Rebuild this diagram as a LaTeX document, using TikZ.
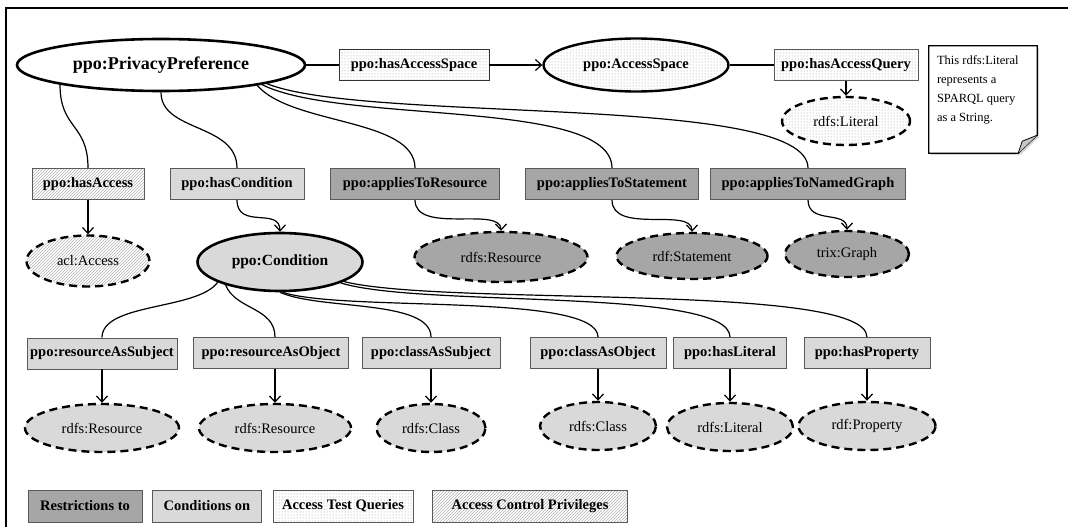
\documentclass[tikz,border=0pt]{standalone}
\usepackage{fontspec}
\setmainfont{Liberation Serif}
\usetikzlibrary{shapes.geometric,patterns,arrows.meta,shadows}

\definecolor{darkfill}{HTML}{A6A6A6}
\definecolor{lightfill}{HTML}{D9D9D9}

\tikzset{
    prop/.style={rectangle, draw=gray!70!black, line width=0.8pt, minimum height=31pt, inner sep=2pt,
        font=\fontsize{14.5}{16}\selectfont\bfseries},
    cls/.style={ellipse, draw, line width=2.4pt, inner sep=1pt, font=\fontsize{14.5}{16}\selectfont},
    ext/.style={cls, dash pattern=on 8pt off 5pt},
    restr/.style={fill=darkfill},
    cond/.style={fill=lightfill},
    query/.style={pattern=dots, pattern color=gray!80},
    priv/.style={pattern=north east lines, pattern color=gray!60},
    link/.style={line width=1.2pt},
}

\begin{document}
\begin{tikzpicture}[x=1pt,y=-1pt,>={Straight Barb[length=6pt,width=11pt]}]

    \useasboundingbox (0,0) rectangle (1068,527);
    % frame
    \draw[line width=1.2pt] (6,527) -- (6,8) -- (1068,8);

    % top row
    \node[cls, fill=white, line width=2.6pt, minimum width=288pt, minimum height=52pt,
        font=\fontsize{18}{20}\selectfont\bfseries] (pp) at (161,65) {ppo:PrivacyPreference};
    \node[prop, query, draw=black!80, minimum width=150pt] (hasSpace) at (414,65) {ppo:hasAccessSpace};
    \node[cls, query, minimum width=185pt, minimum height=53pt, font=\fontsize{14.5}{16}\selectfont\bfseries] (space) at (636,65) {ppo:AccessSpace};
    \node[prop, query, minimum width=144pt] (hasQuery) at (846,65) {ppo:hasAccessQuery};
    \node[ext, query, minimum width=128pt, minimum height=48pt] (litTop) at (846,121) {rdfs:Literal};

    % note
    \node[minimum width=108pt, minimum height=107pt] (note) at (983,99.5) {};
    \draw[line width=1.2pt, fill=white, drop shadow={shadow xshift=2pt,shadow yshift=-2pt,fill=gray!60}]
        (note.north west) -- (note.north east) -- ([yshift=18pt]note.south east)
        -- ([xshift=-19pt]note.south east) -- (note.south west) -- cycle;
    \draw[line width=0.8pt, fill=gray!45] ([yshift=18pt]note.south east) -- ([xshift=-15pt,yshift=12pt]note.south east)
        -- ([xshift=-19pt]note.south east);
    \node[anchor=north west, align=left, inner sep=0pt,
        font=\fontsize{12.5}{19}\selectfont] (noteText) at ([xshift=8pt,yshift=-10pt]note.north west)
        {This rdfs:Literal\\ represents a\\ SPARQL query\\ as a String.};

    % second row
    \node[prop, priv, minimum width=112pt] (hasAccess) at (88,184) {ppo:hasAccess};
    \node[prop, cond, minimum width=134pt] (hasCond) at (237,184) {ppo:hasCondition};
    \node[prop, restr, minimum width=169pt] (toRes) at (415,184) {ppo:appliesToResource};
    \node[prop, restr, minimum width=173pt] (toStmt) at (612,184) {ppo:appliesToStatement};
    \node[prop, restr, minimum width=195pt] (toGraph) at (808,184) {ppo:appliesToNamedGraph};

    % third row
    \node[ext, priv, minimum width=123pt, minimum height=51pt] (acl) at (88,261) {acl:Access};
    \node[cls, cond, line width=2.6pt, minimum width=165pt, minimum height=58pt,
        font=\fontsize{15.5}{17}\selectfont\bfseries] (condition) at (280,262) {ppo:Condition};
    \node[ext, restr, minimum width=173pt, minimum height=50pt] (resource) at (501,257) {rdfs:Resource};
    \node[ext, restr, minimum width=151pt, minimum height=46pt] (statement) at (692,256) {rdf:Statement};
    \node[ext, restr, minimum width=124pt, minimum height=46pt] (graph) at (847,254) {trix:Graph};

    % fourth row
    \node[prop, cond, minimum width=150pt] (asSubj) at (102,353.5) {ppo:resourceAsSubject};
    \node[prop, cond, minimum width=155pt] (asObj) at (271,353) {ppo:resourceAsObject};
    \node[prop, cond, minimum width=138pt] (clSubj) at (431,353) {ppo:classAsSubject};
    \node[prop, cond, minimum width=136pt] (clObj) at (598,353) {ppo:classAsObject};
    \node[prop, cond, minimum width=113pt] (hasLit) at (730,353) {ppo:hasLiteral};
    \node[prop, cond, minimum width=126pt] (hasProp) at (867,353) {ppo:hasProperty};

    % fifth row
    \node[ext, cond, minimum width=154pt, minimum height=48pt] (resA) at (102,428) {rdfs:Resource};
    \node[ext, cond, minimum width=152pt, minimum height=48pt] (resB) at (275,428) {rdfs:Resource};
    \node[ext, cond, minimum width=109pt, minimum height=48pt] (classA) at (431,428) {rdfs:Class};
    \node[ext, cond, minimum width=116pt, minimum height=48pt] (classB) at (598,426) {rdfs:Class};
    \node[ext, cond, minimum width=126pt, minimum height=48pt] (literal) at (730,427) {rdfs:Literal};
    \node[ext, cond, minimum width=137pt, minimum height=48pt] (property) at (867,426) {rdf:Property};

    % legend
    \node[prop, restr, minimum width=114pt, minimum height=32pt] (legRestr) at (85,506) {Restrictions to};
    \node[prop, cond, minimum width=109pt, minimum height=32pt] (legCond) at (207,506) {Conditions on};
    \node[prop, query, minimum width=140pt, minimum height=32pt] (legQuery) at (343,506) {Access Test Queries};
    \node[prop, priv, minimum width=195pt, minimum height=32pt] (legPriv) at (530,506) {Access Control Privileges};

    % top connectors
    \draw[link] (pp.east) -- (hasSpace.west);
    \draw[link,->] (hasSpace.east) -- (space.west);
    \draw[link] (space.east) -- (hasQuery.west);
    \draw[link,->] (hasQuery.south) -- (litTop.north);

    % from ppo:PrivacyPreference
    \draw[link] (pp.191) .. controls +(0,45) and +(0,-45) .. (hasAccess.north);
    \draw[link] (pp.south) .. controls +(0,40) and +(0,-45) .. (hasCond.north);
    \draw[link] (pp.-12) .. controls +(35,40) and +(0,-50) .. (toRes.north);
    \draw[link] (pp.-11) .. controls +(80,40) and +(0,-70) .. (toStmt.north);
    \draw[link] (pp.-10) .. controls +(100,40) and +(0,-75) .. (toGraph.north);

    \draw[link,->] (hasAccess.south) -- (acl.north);
    \draw[link,->] (hasCond.south) .. controls +(0,30) and +(0,-25) .. (condition.north);
    \draw[link,->] (toRes.south) .. controls +(0,35) and +(0,-25) .. (resource.north);
    \draw[link,->] (toStmt.south) .. controls +(0,35) and +(0,-25) .. (statement.north);
    \draw[link,->] (toGraph.south) .. controls +(0,25) and +(0,-20) .. (graph.north);

    % from ppo:Condition
    \draw[link] (condition.198) .. controls +(-20,28) and +(0,-35) .. (asSubj.north);
    \draw[link] (condition.203) .. controls +(10,25) and +(0,-30) .. (asObj.north -| resB.north);
    \draw[link] (condition.south) .. controls +(40,18) and +(0,-38) .. (clSubj.north);
    \draw[link] (condition.275) .. controls +(60,20) and +(0,-45) .. (clObj.north);
    \draw[link] (condition.-19) .. controls +(80,25) and +(0,-50) .. (hasLit.north);
    \draw[link] (condition.-17) .. controls +(100,25) and +(0,-55) .. (hasProp.north);

    \draw[link,->] (asSubj.south) -- (resA.north);
    \draw[link,->] (asObj.south -| resB.north) -- (resB.north);
    \draw[link,->] (clSubj.south) -- (classA.north);
    \draw[link,->] (clObj.south) -- (classB.north);
    \draw[link,->] (hasLit.south) -- (literal.north);
    \draw[link,->] (hasProp.south) -- (property.north);

\end{tikzpicture}
\end{document}
